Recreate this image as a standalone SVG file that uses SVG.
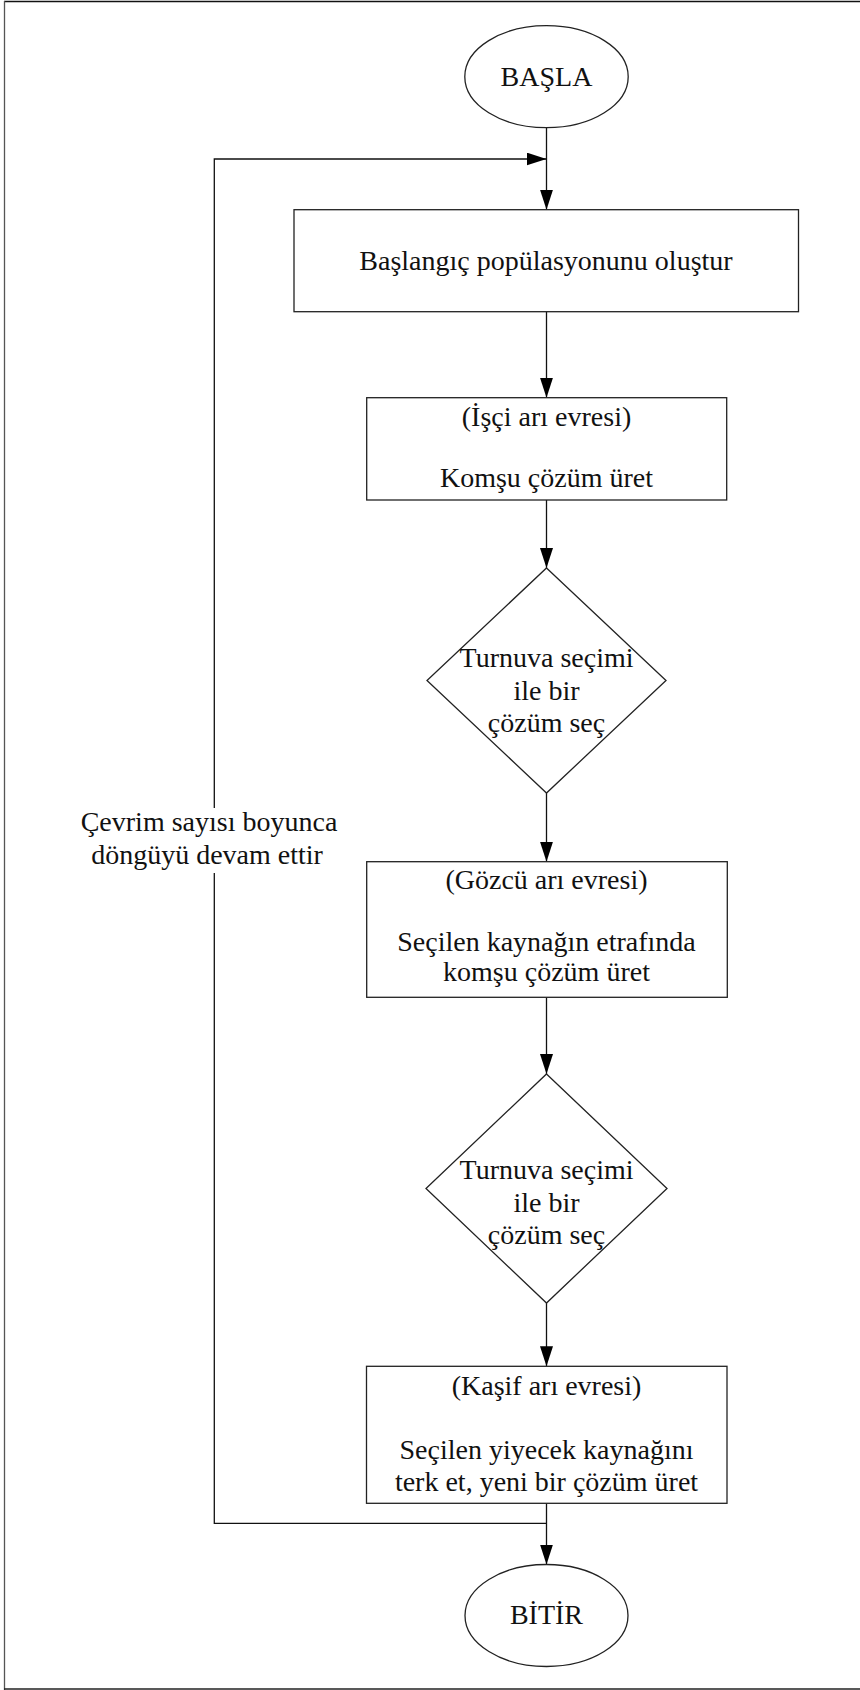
<svg xmlns="http://www.w3.org/2000/svg" width="860" height="1690" viewBox="0 0 860 1690">
  <style>
    .shape { fill: #ffffff; stroke: #222222; stroke-width: 1.3; }
    .wire { fill: none; stroke: #111111; stroke-width: 1.3; }
    .label { font-family: "Liberation Serif", "Times New Roman", serif; font-size: 28px; fill: #111111; text-anchor: middle; }
    .frame { stroke-width: 1.3; fill: none; }
  </style>
  <defs>
    <marker id="arrow" markerUnits="userSpaceOnUse" markerWidth="21" markerHeight="14" refX="20" refY="6.5" orient="auto">
      <path d="M0,0 L20,6.5 L0,13 z" fill="#000000"/>
    </marker>
  </defs>

  <rect x="0" y="0" width="860" height="1690" fill="#ffffff"/>

  <!-- page frame -->
  <g id="frame">
    <line class="frame" x1="4" y1="1.5" x2="860" y2="1.5" stroke="#111111"/>
    <line class="frame" x1="4.5" y1="1" x2="4.5" y2="1690" stroke="#555555" stroke-width="2"/>
    <line class="frame" x1="4" y1="1689" x2="860" y2="1689" stroke="#222222"/>
  </g>

  <!-- connectors -->
  <g id="connectors">
    <line class="wire" x1="546.5" y1="127.7" x2="546.5" y2="209.7" marker-end="url(#arrow)"/>
    <line class="wire" x1="546.5" y1="311.7" x2="546.5" y2="397.7" marker-end="url(#arrow)"/>
    <line class="wire" x1="546.5" y1="500" x2="546.5" y2="568" marker-end="url(#arrow)"/>
    <line class="wire" x1="546.5" y1="793" x2="546.5" y2="861.7" marker-end="url(#arrow)"/>
    <line class="wire" x1="546.5" y1="997.3" x2="546.5" y2="1074" marker-end="url(#arrow)"/>
    <line class="wire" x1="546.5" y1="1303" x2="546.5" y2="1366.3" marker-end="url(#arrow)"/>
    <line class="wire" x1="546.5" y1="1503.3" x2="546.5" y2="1564.5" marker-end="url(#arrow)"/>
    <!-- loop back to the start of the cycle -->
    <polyline class="wire" points="546.5,1523.3 214.3,1523.3 214.3,873"/>
    <polyline class="wire" points="214.3,808 214.3,159 546.5,159" marker-end="url(#arrow)"/>
    <text class="label" x="209" y="831">Çevrim sayısı boyunca</text>
    <text class="label" x="207" y="864">döngüyü devam ettir</text>
  </g>

  <g id="start">
    <ellipse class="shape" cx="546.5" cy="76.7" rx="81.7" ry="51"/>
    <text class="label" x="546.5" y="86">BAŞLA</text>
  </g>

  <g id="init">
    <rect class="shape" x="294" y="209.7" width="504.5" height="102"/>
    <text class="label" x="546" y="270">Başlangıç popülasyonunu oluştur</text>
  </g>

  <g id="employed">
    <rect class="shape" x="366.7" y="397.7" width="360" height="102.3"/>
    <text class="label" x="546.5" y="426">(İşçi arı evresi)</text>
    <text class="label" x="546.5" y="487">Komşu çözüm üret</text>
  </g>

  <g id="select1">
    <polygon class="shape" points="546.5,568 666,680.5 546.5,793 427,680.5"/>
    <text class="label" x="546.5" y="667">Turnuva seçimi</text>
    <text class="label" x="546.5" y="700">ile bir</text>
    <text class="label" x="546.5" y="732">çözüm seç</text>
  </g>

  <g id="onlooker">
    <rect class="shape" x="366.7" y="861.7" width="360.6" height="135.6"/>
    <text class="label" x="546.5" y="889">(Gözcü arı evresi)</text>
    <text class="label" x="546.5" y="951">Seçilen kaynağın etrafında</text>
    <text class="label" x="546.5" y="981">komşu çözüm üret</text>
  </g>

  <g id="select2">
    <polygon class="shape" points="546.5,1074 667,1188.5 546.5,1303 426,1188.5"/>
    <text class="label" x="546.5" y="1179">Turnuva seçimi</text>
    <text class="label" x="546.5" y="1212">ile bir</text>
    <text class="label" x="546.5" y="1244">çözüm seç</text>
  </g>

  <g id="scout">
    <rect class="shape" x="366.5" y="1366.3" width="360.5" height="137"/>
    <text class="label" x="546.5" y="1395">(Kaşif arı evresi)</text>
    <text class="label" x="546.5" y="1459">Seçilen yiyecek kaynağını</text>
    <text class="label" x="546.5" y="1491">terk et, yeni bir çözüm üret</text>
  </g>

  <g id="end">
    <ellipse class="shape" cx="546.5" cy="1615.5" rx="81.5" ry="51"/>
    <text class="label" x="546.5" y="1624">BİTİR</text>
  </g>
</svg>
